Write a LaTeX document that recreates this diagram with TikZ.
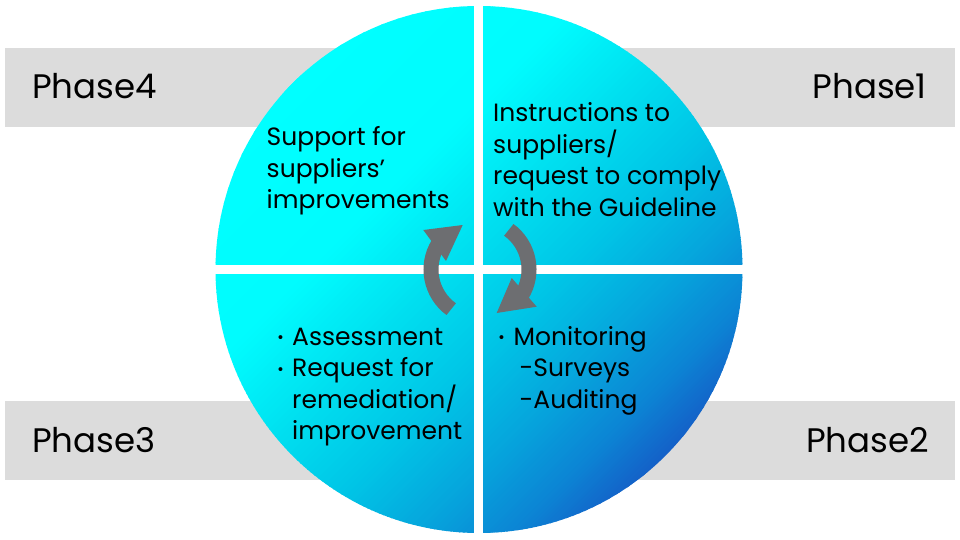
\documentclass[tikz,border=0pt]{standalone}
\usepackage{fontspec}
\setmainfont{Poppins}
\definecolor{barg}{HTML}{DCDCDC}
\definecolor{arrg}{HTML}{6D6E71}
\definecolor{gS0}{HTML}{00FFFF}
\definecolor{gS1}{HTML}{00FCFE}
\definecolor{gS2}{HTML}{00E0F0}
\definecolor{gS3}{HTML}{00C4E6}
\definecolor{gS4}{HTML}{06A4DC}
\definecolor{gS5}{HTML}{0C84D4}
\definecolor{gS6}{HTML}{1460C8}
\newcommand{\gradseg}[4]{%
  \foreach \k in {0,...,19}{%
    \pgfmathsetmacro{\ua}{(#1+(#2-#1)*\k/20)*264}%
    \pgfmathsetmacro{\ub}{(#1+(#2-#1)*(\k+1)/20)*264+0.8}%
    \pgfmathtruncatemacro{\pc}{(\k+0.5)*5}%
    \fill[#4!\pc!#3] (\ua,-300) rectangle (\ub,300);
  }}
\newcommand{\bdot}{\llap{\raisebox{-3.5pt}{\fontsize{32}{32}\selectfont ·}\hspace{8pt}}}
\tikzset{
  bar/.style={fill=barg, draw=none},
  phase/.style={font=\fontsize{34}{40}\selectfont, inner sep=0pt, text=black},
  body/.style={font=\fontsize{25}{31.6}\selectfont, inner sep=0pt, align=left, text=black},
  shaft/.style={draw=arrg, line width=15pt},
  ahead/.style={fill=arrg, draw=none},
  sep/.style={draw=white, line width=9pt}
}
\begin{document}
\begin{tikzpicture}[x=1pt,y=-1pt]
\useasboundingbox (0,0) rectangle (960,540);
\fill[white] (0,0) rectangle (960,540);
% bars
\fill[bar] (5,48) rectangle (955,127);
\fill[bar] (5,400.5) rectangle (955,480);
% circle with diagonal gradient
\coordinate (C) at (479,269.5);
\begin{scope}
  \clip (C) circle[radius=263.5];
  \begin{scope}[shift={(C)}, rotate=-45]
    \fill[gS0] (-400,-400) rectangle (-263,400);
    \gradseg{-1}{-0.45}{gS0}{gS1}
    \gradseg{-0.45}{-0.1}{gS1}{gS2}
    \gradseg{-0.1}{0.25}{gS2}{gS3}
    \gradseg{0.25}{0.55}{gS3}{gS4}
    \gradseg{0.55}{0.8}{gS4}{gS5}
    \gradseg{0.8}{1}{gS5}{gS6}
  \end{scope}
\end{scope}
% separators
\draw[sep] (478.5,0) -- (478.5,540);
\draw[sep] (200,269.7) -- (760,269.7);
% arrows
\coordinate (A) at (480,269.5);
\draw[shaft] (A) ++(126:49) arc[start angle=126, end angle=212, radius=49];
\fill[ahead] (423.3,230) -- (462.7,225) -- (446,261) -- cycle;
\draw[shaft] (A) ++(306:49) arc[start angle=306, end angle=392, radius=49];
\fill[ahead] (536.7,306.7) -- (496.7,313) -- (511.7,278) -- cycle;
% phase labels
\node[phase, anchor=base west] (p4) at (32,98.5) {Phase4};
\node[phase, anchor=base east] (p1) at (927,98.5) {Phase1};
\node[phase, anchor=base west] (p3) at (32,452) {Phase3};
\node[phase, anchor=base east] (p2) at (929,452) {Phase2};
% body texts (base anchor = last line baseline)
\node[body, anchor=base west] (t4) at (266.5,208.7) {Support for\\suppliers’\\improvements};
\node[body, anchor=base west] (t1) at (493,216.3) {Instructions to\\suppliers/\\request to comply\\with the Guideline};
\node[body, anchor=base west] (t3) at (292,439.8) {\bdot Assessment\\\bdot Request for\\remediation/\\improvement};
\node[body, anchor=base west] (t2) at (513.5,408.2) {\bdot Monitoring\\\hspace{6pt}-Surveys\\\hspace{6pt}-Auditing};
\end{tikzpicture}
\end{document}
